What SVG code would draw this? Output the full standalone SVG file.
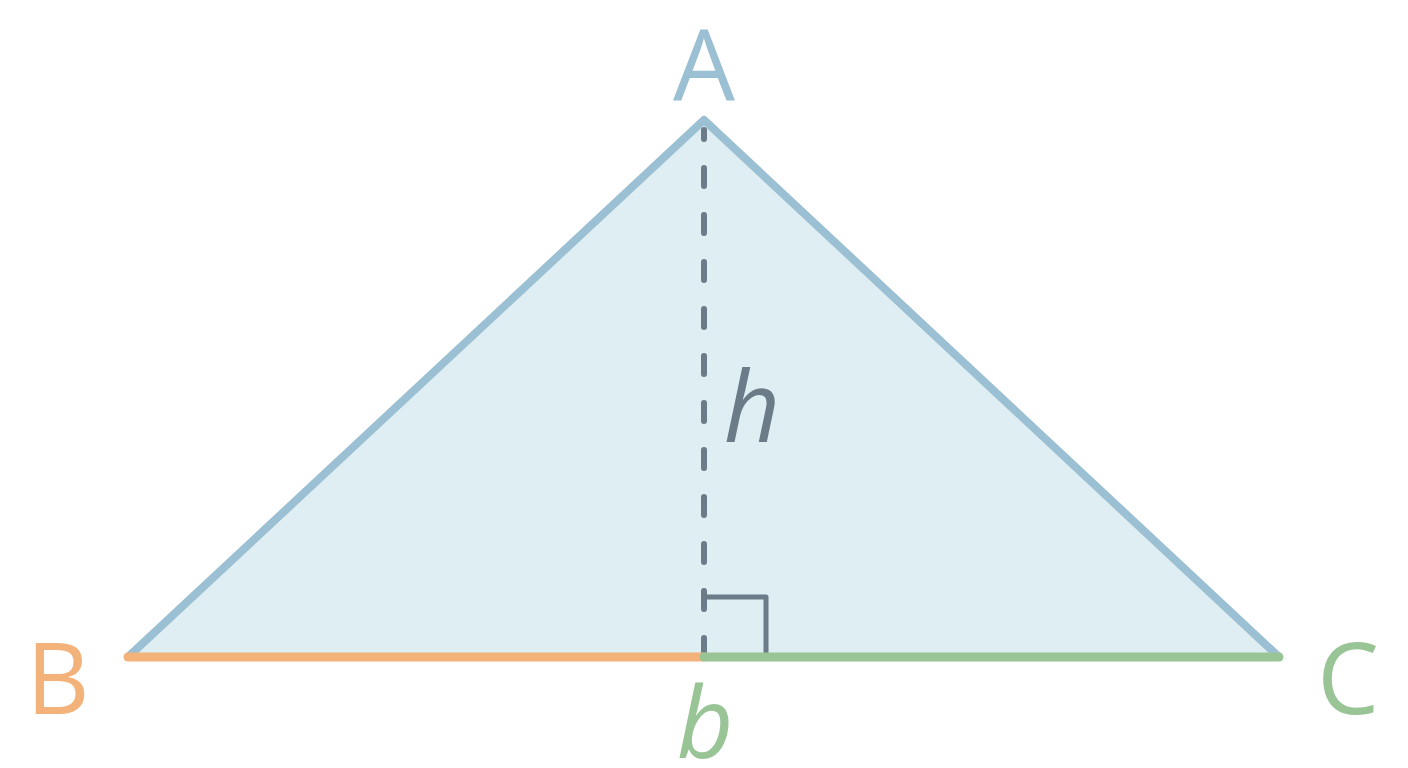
<svg xmlns="http://www.w3.org/2000/svg" width="1408" height="768" viewBox="0 0 1408 768">
<style>
.lbl{font-family:"Open Sans","Noto Sans","Liberation Sans",sans-serif;font-size:98px;text-anchor:middle}
.it{font-style:italic}
</style>
<rect width="1408" height="768" fill="#ffffff"/>
<g id="triangle">
<polygon points="704,120 128,657 1279,657" fill="#deeef2" stroke="#9bbfd3" stroke-width="8" stroke-linejoin="round"/>
</g>
<g id="connectors">
<line x1="704" y1="130" x2="704" y2="657" stroke="#6b7b87" stroke-width="6" stroke-linecap="round" stroke-dasharray="18 29" stroke-dashoffset="9"/>
<polyline points="706,597 766,597 766,655" fill="none" stroke="#6b7b87" stroke-width="5" stroke-linejoin="round"/>
<line x1="128" y1="657" x2="704" y2="657" stroke="#f2b27a" stroke-width="9" stroke-linecap="round"/>
<line x1="704" y1="657" x2="1279" y2="657" stroke="#98c496" stroke-width="9" stroke-linecap="round"/>
</g>
<g id="label-A"><text class="lbl" x="704" y="100" fill="#9bbfd3">A</text></g>
<g id="label-B"><text class="lbl" x="58" y="714" fill="#f2b27a">B</text></g>
<g id="label-C"><text class="lbl" x="1348" y="714" fill="#98c496">C</text></g>
<g id="label-h"><text class="lbl it" x="752" y="442" fill="#6b7b87" font-size="104">h</text></g>
<g id="label-b"><text class="lbl it" x="705" y="758" fill="#98c496" font-size="104">b</text></g>
</svg>
